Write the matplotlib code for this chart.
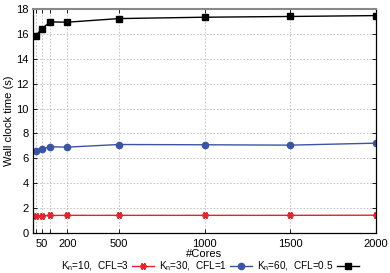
import matplotlib
matplotlib.use("Agg")
import matplotlib.pyplot as plt

cores = [16, 50, 100, 200, 500, 1000, 1500, 2000]
kn10 = [1.38, 1.40, 1.41, 1.42, 1.42, 1.42, 1.42, 1.43]
kn30 = [6.58, 6.74, 6.93, 6.90, 7.11, 7.09, 7.06, 7.22]
kn60 = [15.84, 16.40, 16.96, 16.94, 17.23, 17.34, 17.40, 17.47]
labels = ["K$_n$=10,  CFL=3", "K$_n$=30,  CFL=1", "K$_n$=60,  CFL=0.5"]
xticks = [16, 50, 100, 200, 500, 1000, 1500, 2000]
xticklabels = ["", "50", "", "200", "500", "1000", "1500", "2000"]
yticks = [0, 2, 4, 6, 8, 10, 12, 14, 16, 18]

plt.rcParams['font.family'] = ['Liberation Sans', 'DejaVu Sans']
plt.rcParams['mathtext.fontset'] = 'custom'
plt.rcParams['mathtext.rm'] = 'Liberation Sans'
plt.rcParams['mathtext.it'] = 'Liberation Sans'

fig = plt.figure(figsize=(3.9, 2.73), dpi=100)
ax = fig.add_axes([33/390, 1-233/273, (376-33)/390, (233-9)/273])

l1, = ax.plot(cores, kn10, color='#e8202a', lw=1.0, marker=(6, 2, 90), ms=5, mew=1.2)
l2, = ax.plot(cores, kn30, color='#3a55a4', lw=1.0, marker='o', ms=4.5)
l3, = ax.plot(cores, kn60, color='black', lw=1.0, marker='s', ms=4.5)

ax.set_xlim(0, 2000)
ax.set_ylim(0, 18)
ax.set_xticks(xticks)
ax.set_xticklabels(xticklabels)
ax.set_yticks(yticks)
ax.tick_params(direction='in', top=True, right=True, labelsize=8, length=3, width=0.6)
ax.tick_params(axis='x', pad=4.5)
ax.tick_params(axis='y', pad=3)
ax.grid(True, color='#bbbbbb', ls=(0, (2, 2)), lw=0.6)
for s in ['left', 'right', 'bottom']:
    ax.spines[s].set_linewidth(0.9)
ax.spines['top'].set_color('#888888')
ax.spines['top'].set_linewidth(1.5)

ax.set_xlabel("#Cores", fontsize=8, labelpad=0)
ax.set_ylabel("Wall clock time (s)", fontsize=8, labelpad=2)

fig.legend([l1, l2, l3], labels, loc='center', bbox_to_anchor=(210/390, 1-266/273),
           ncol=3, frameon=False, markerfirst=False, fontsize=7.2,
           handlelength=2.2, handletextpad=0.3, columnspacing=0.5,
           borderaxespad=0, borderpad=0)

fig.savefig("out.png", dpi=100)
